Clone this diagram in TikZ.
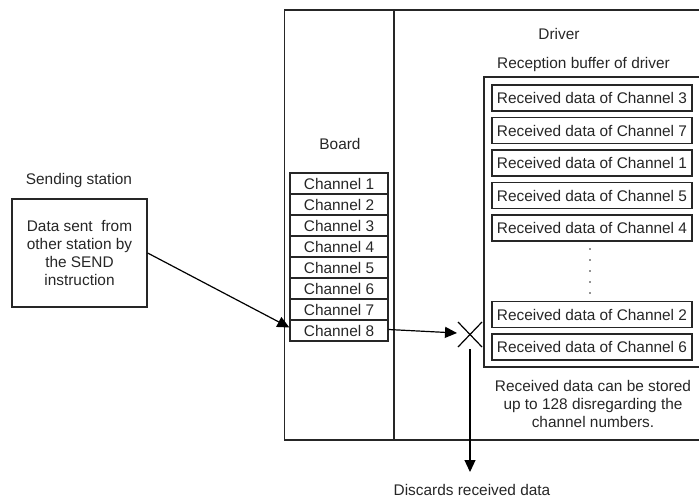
\documentclass[tikz,border=0pt]{standalone}
\usepackage{fontspec}
\setmainfont{Liberation Sans}
\usetikzlibrary{arrows.meta}
\tikzset{
  txt/.style={font=\fontsize{15.4}{18.3}\selectfont, inner sep=0pt, align=center, text=black!85},
  frame/.style={draw=black!85, line width=1.3pt},
  chan/.style={txt, draw=black!85, line width=1.3pt, minimum width=98pt, minimum height=21pt, inner sep=0pt},
  rbox/.style={txt, draw=black!85, line width=1.3pt, minimum width=200pt, minimum height=26pt, inner sep=0pt},
  arr/.style={draw=black, line width=1.2pt, -{Triangle[length=12pt,width=11pt]}},
  cross/.style={draw=black, line width=1.2pt}
}
\begin{document}
\begin{tikzpicture}[x=1pt,y=-1pt]
\useasboundingbox (0,0) rectangle (699,498);
% outer frames (open to the right)
\draw[frame] (710,10) -- (284.5,10) -- (284.5,440) -- (710,440);
\draw[frame] (394,10) -- (394,440);
\draw[frame] (710,77) -- (484,77) -- (484,367) -- (710,367);
\clip (0,0) rectangle (699,498);
% labels
\node[txt] (sendlbl) at (79,181) {Sending station};
\node[txt] (boardlbl) at (340,144) {Board};
\node[txt] (driverlbl) at (559,34) {Driver};
\node[txt] (rbuflbl) at (583.5,65) {Reception buffer of driver};
% sending station box
\node[txt, draw=black!85, line width=1.3pt, minimum width=135pt, minimum height=108pt] (send) at (79.5,253) {Data sent\ \ from\\other station by\\the SEND\\instruction};
% channels
\foreach \i in {1,...,8}{
  \node[chan] (ch\i) at (339,{173+21*(\i-0.5)}) {Channel \i};
}
% received boxes
\node[rbox] (r3) at (592,98) {Received data of Channel 3};
\node[rbox] (r7) at (592,130.5) {Received data of Channel 7};
\node[rbox] (r1) at (592,163) {Received data of Channel 1};
\node[rbox] (r5) at (592,195.5) {Received data of Channel 5};
\node[rbox] (r4) at (592,228) {Received data of Channel 4};
\node[rbox] (r2) at (592,314.5) {Received data of Channel 2};
\node[rbox] (r6) at (592,347) {Received data of Channel 6};
% dots
\foreach \y in {249,260,271,282,293}{
  \fill[black!85] (590,\y) circle (0.9pt);
}
\node[txt] (note) at (593,404) {Received data can be stored\\up to 128 disregarding the\\channel numbers.};
\node[txt] (disc) at (472,490) {Discards received data};
% cross
\coordinate (x) at (470,334.5);
\coordinate (xl) at (457,333);
\draw[cross] (458,322) -- (482,347);
\draw[cross] (482,322) -- (458,347);
\coordinate (xb) at (470,349);
\coordinate (dend) at (470,472);
% arrows
\draw[arr] (send.east) -- ([yshift=3pt]ch8.west);
\draw[arr] ([yshift=1pt]ch8.east) -- (xl);
\draw[arr] (xb) -- (dend);
\end{tikzpicture}
\end{document}
